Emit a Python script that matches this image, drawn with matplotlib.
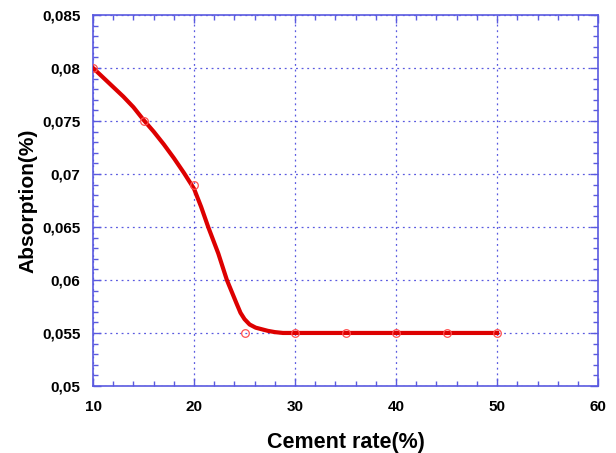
import matplotlib
matplotlib.use("Agg")
import matplotlib.pyplot as plt
from matplotlib.ticker import MultipleLocator, FuncFormatter

# measured points
cement = [10, 15, 20, 25, 30, 35, 40, 45, 50]
absorption = [0.080, 0.075, 0.069, 0.055, 0.055, 0.055, 0.055, 0.055, 0.055]

# fitted curve
curve_x = [10, 11, 12, 13, 14, 15, 16, 17, 18, 19, 20, 20.7, 21.4, 22.4, 23.25,
           24.2, 24.6, 25.0, 25.5, 26.1, 26.7, 27.3, 28.0, 28.8, 30, 40, 50]
curve_y = [0.0800, 0.0791, 0.0782, 0.0773, 0.0763, 0.0751, 0.0740, 0.0728, 0.0715,
           0.0701, 0.0686, 0.0669, 0.0650, 0.0625, 0.0600, 0.0578, 0.0569, 0.0563,
           0.0558, 0.0555, 0.05535, 0.0552, 0.05508, 0.0550, 0.0550, 0.0550, 0.0550]

blue = "#5a5ae0"

plt.rcParams['font.family'] = ['Liberation Sans', 'DejaVu Sans']
fig = plt.figure(figsize=(6.16, 4.53), dpi=100)
ax = fig.add_axes([0.151, 0.148, 0.82, 0.819])

ax.plot(curve_x, curve_y, '-', color='#dd0000', linewidth=3, zorder=3,
        solid_joinstyle='round')
ax.plot(cement, absorption, 'o', mfc='none', mec='#ff5050', ms=5.5, mew=0.9, zorder=4)

ax.set_xlim(10, 60)
ax.set_ylim(0.05, 0.085)
ax.xaxis.set_major_locator(MultipleLocator(10))
ax.xaxis.set_minor_locator(MultipleLocator(2))
ax.yaxis.set_major_locator(MultipleLocator(0.005))
ax.yaxis.set_minor_locator(MultipleLocator(0.001))
ax.yaxis.set_major_formatter(FuncFormatter(lambda v, p: f"{v:g}".replace('.', ',')))

ax.grid(True, which='major', color=blue, linestyle=(0, (1.5, 3)), linewidth=0.9)
for s in ax.spines.values():
    s.set_color(blue)
    s.set_linewidth(1.2)
ax.tick_params(which='both', direction='in', top=True, right=True, color=blue)
ax.tick_params(which='major', length=6, width=1, labelsize=11)
ax.tick_params(axis='x', which='major', pad=10)
ax.tick_params(axis='y', which='major', pad=9)
ax.tick_params(which='minor', length=3.5, width=1)
for lab in ax.get_xticklabels() + ax.get_yticklabels():
    lab.set_fontweight('bold')

ax.set_xlabel("Cement rate(%)", fontsize=15.5, fontweight='bold', labelpad=13)
ax.set_ylabel("Absorption(%)", fontsize=15, fontweight='bold', labelpad=3)

fig.savefig("out.png", dpi=100)
